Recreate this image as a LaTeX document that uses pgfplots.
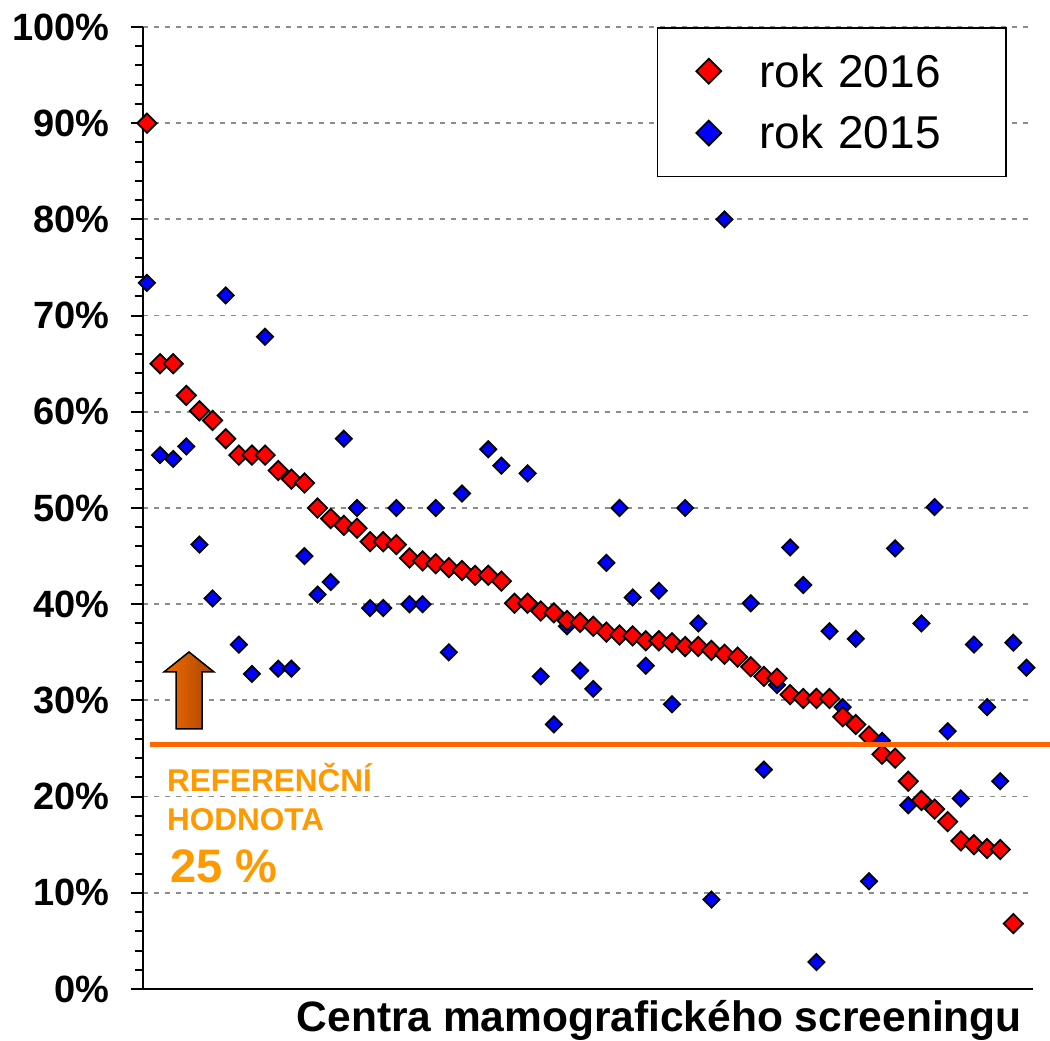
\documentclass[border=0pt]{standalone}
\usepackage{pgfplots}
\pgfplotsset{compat=1.18}
\usepackage{pgfplotstable}
\usepackage{fontspec}
\setmainfont{Liberation Sans}
\definecolor{refor}{HTML}{FF6600}
\definecolor{reftxt}{HTML}{FF9900}
\definecolor{gridc}{HTML}{8C8C8C}
\definecolor{arrL}{HTML}{F26A00}
\definecolor{arrR}{HTML}{A84600}

\pgfplotstableread{
x y
0 90
1 65
2 65
3 61.7
4 60.1
5 59.1
6 57.2
7 55.5
8 55.5
9 55.5
10 53.9
11 53.0
12 52.6
13 50.0
14 48.9
15 48.2
16 47.9
17 46.5
18 46.5
19 46.2
20 44.8
21 44.5
22 44.2
23 43.8
24 43.5
25 43.0
26 43.0
27 42.4
28 40.1
29 40.1
30 39.3
31 39.1
32 38.3
33 38.1
34 37.7
35 37.1
36 36.8
37 36.7
38 36.2
39 36.2
40 36.0
41 35.6
42 35.6
43 35.2
44 34.8
45 34.5
46 33.5
47 32.5
48 32.3
49 30.6
50 30.2
51 30.2
52 30.2
53 28.3
54 27.5
55 26.3
56 24.4
57 24.0
58 21.6
59 19.6
60 18.7
61 17.4
62 15.4
63 15.0
64 14.6
65 14.5
66 6.8
}\rokA

\pgfplotstableread{
x y
0 73.4
1 55.5
2 55.1
3 56.4
4 46.2
5 40.6
6 72.1
7 35.8
8 32.75
9 67.8
10 33.3
11 33.3
12 45.0
13 41.0
14 42.3
15 57.2
16 50.0
17 39.6
18 39.6
19 50.0
20 40.0
21 40.0
22 50.0
23 35.0
24 51.5
26 56.1
27 54.4
29 53.6
30 32.5
31 27.5
32 37.7
33 33.1
34 31.2
35 44.3
36 50.0
37 40.7
38 33.6
39 41.4
40 29.6
41 50.0
42 38.0
43 9.3
44 80.0
46 40.1
47 22.8
48 31.6
49 45.9
50 42.0
51 2.8
52 37.2
53 29.3
54 36.4
55 11.2
56 25.8
57 45.8
58 19.1
59 38.0
60 50.1
61 26.8
62 19.8
63 35.8
64 29.3
65 21.6
66 36.0
67 33.4
}\rokB

\begin{document}
\begin{tikzpicture}
\begin{axis}[
  name=ax,
  scale only axis,
  width=890pt, height=962pt,
  xmin=-0.3, xmax=67.5,
  ymin=0, ymax=100,
  axis x line*=bottom,
  axis y line*=left,
  axis line style={-, line width=2.5pt, black},
  xtick=\empty,
  ytick={0,10,...,100},
  yticklabels={0\%,10\%,20\%,30\%,40\%,50\%,60\%,70\%,80\%,90\%,100\%},
  minor y tick num=4,
  tick align=outside,
  major tick length=12pt,
  minor tick length=8pt,
  every tick/.style={black, line width=2pt},
  ymajorgrids,
  major grid style={gridc, line width=1.8pt, dash pattern=on 5pt off 6pt},
  yticklabel style={font=\bfseries\fontsize{38}{42}\selectfont, inner sep=0pt, xshift=-21pt},
  clip=false,
  reverse legend,
  legend style={
    at={(0.9708,1)}, anchor=north east,
    draw=black, line width=1.6pt,
    inner xsep=39pt, inner ysep=26pt,
    row sep=27pt,
    column sep=38pt,
    font=\fontsize{46}{50}\selectfont,
    nodes={inner sep=0pt, text width=208pt},
  },
  legend cell align=left,
  legend image code/.code={\draw[#1] plot coordinates {(0pt,0pt)};},
  legend image post style={mark size=8.8pt},
]
\addplot[only marks, mark=square*, mark size=5.7pt,
  mark options={rotate=45, fill=blue, draw=black, line width=1.8pt}]
  table[x=x, y=y] {\rokB};
\addlegendentry{rok 2015}
\addplot[only marks, mark=square*, mark size=6.8pt,
  mark options={rotate=45, fill=red, draw=black, line width=1.8pt}]
  table[x=x, y=y] {\rokA};
\addlegendentry{rok 2016}
\end{axis}
\begin{scope}[shift={(ax.south west)}, x=1pt, y=1pt]
  \draw[refor, line width=5pt] (7,244) -- (907,244);
  \shade[left color=arrL, right color=arrR, draw=black, line width=1.5pt]
    (46,337) -- (71,317) -- (59,317) -- (59,260) -- (33,260) -- (33,317) -- (21,317) -- cycle;
  \node[anchor=base west, inner sep=0pt, text=reftxt, font=\bfseries\fontsize{31.5}{34}\selectfont] at (24,197) {REFERENČNÍ};
  \node[anchor=base west, inner sep=0pt, text=reftxt, font=\bfseries\fontsize{31.5}{34}\selectfont] at (24,158) {HODNOTA};
  \node[anchor=base west, inner sep=0pt, text=reftxt, font=\bfseries\fontsize{47}{50}\selectfont] at (27,106) {25 \%};
  \node[anchor=base east, inner sep=0pt, font=\bfseries\fontsize{42.5}{46}\selectfont] at (879,-43) {Centra mamografického screeningu};
\end{scope}
\pgfresetboundingbox
\path[use as bounding box] ([xshift=-143pt,yshift=-52pt]ax.south west) rectangle ([xshift=17pt,yshift=27pt]ax.north east);
\end{tikzpicture}
\end{document}
